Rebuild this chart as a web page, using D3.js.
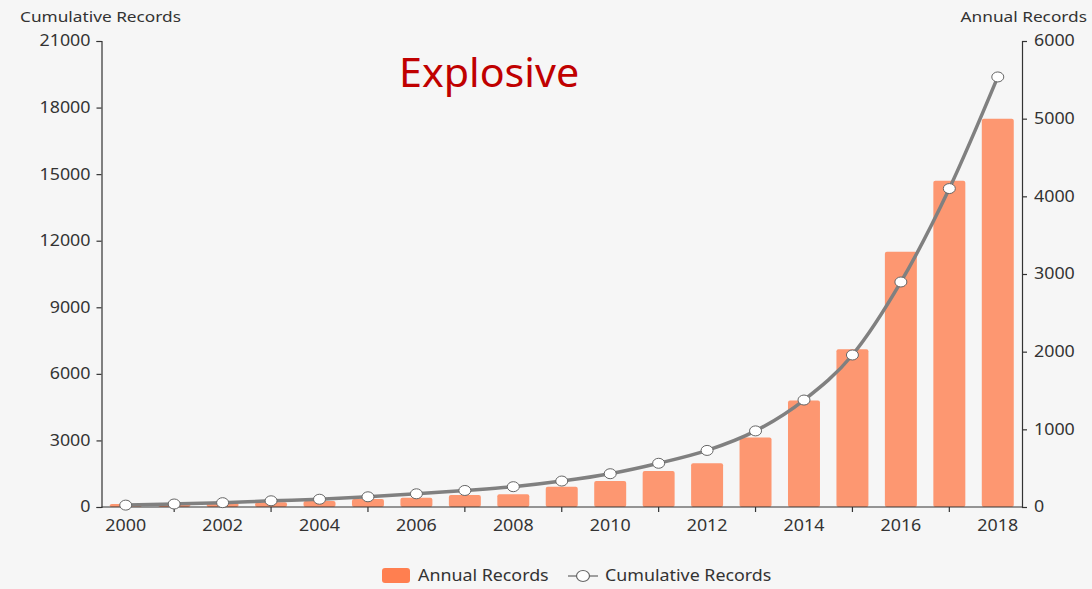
<!DOCTYPE html>
<html>
<head>
<meta charset="utf-8">
<script src="https://cdn.jsdelivr.net/npm/d3@7"></script>
<style>
  html, body { margin: 0; padding: 0; background: #f6f6f6; }
  svg { display: block; }
  text { font-family: "Noto Sans", "Open Sans", sans-serif; }
</style>
</head>
<body>
<svg id="chart" width="1092" height="589"></svg>
<script>
// Yearly record counts (bars, right axis) and running totals (line, left axis)
const years = ["2000","2001","2002","2003","2004","2005","2006","2007","2008","2009",
               "2010","2011","2012","2013","2014","2015","2016","2017","2018"];
const annualRecords = [40, 45, 50, 60, 77, 103, 120, 155, 165, 260,
                       335, 463, 562, 895, 1370, 2030, 3285, 4200, 5000];
const cumulativeRecords = [85, 135, 195, 280, 350, 460, 595, 745, 915, 1170,
                           1500, 1970, 2550, 3430, 4820, 6850, 10140, 14350, 19380];
const leftTicks = [0, 3000, 6000, 9000, 12000, 15000, 18000, 21000];
const rightTicks = [0, 1000, 2000, 3000, 4000, 5000, 6000];
const xLabelYears = years.filter((d, i) => i % 2 === 0);
const xTickYears = years.filter((d, i) => i % 2 === 1);

const svg = d3.select("#chart");
const plot = { left: 101.5, right: 1022, top: 41, bottom: 507 };
const axisColor = "#333";
const textColor = "#333";

const x = d3.scaleBand().domain(years).range([plot.left, plot.right]).paddingInner(0).paddingOuter(0);
const yLeft = d3.scaleLinear().domain([0, 21000]).range([plot.bottom, plot.top]);
const yRight = d3.scaleLinear().domain([0, 6000]).range([plot.bottom, plot.top]);

const barWidth = x.bandwidth() * 0.66;

// Bars: annual records
svg.append("g").selectAll("rect")
  .data(years)
  .join("rect")
  .attr("x", d => x(d) + (x.bandwidth() - barWidth) / 2)
  .attr("y", (d, i) => yRight(annualRecords[i]))
  .attr("width", barWidth)
  .attr("height", (d, i) => plot.bottom - yRight(annualRecords[i]))
  .attr("rx", 2)
  .attr("fill", "#ff7f50")
  .attr("fill-opacity", 0.8);

// Left axis (cumulative)
const leftAxis = d3.axisLeft(yLeft).tickValues(leftTicks).tickSize(5).tickPadding(6).tickFormat(d3.format("d"));
const gL = svg.append("g").attr("transform", `translate(${plot.left},0)`).call(leftAxis);

// Right axis (annual)
const rightAxis = d3.axisRight(yRight).tickValues(rightTicks).tickSize(5).tickPadding(7).tickFormat(d3.format("d"));
const gR = svg.append("g").attr("transform", `translate(${plot.right},0)`).call(rightAxis);

// Bottom axis: labels on even years, tick marks on odd years
const gB = svg.append("g").attr("transform", `translate(0,${plot.bottom})`);
gB.append("line").attr("x1", plot.left).attr("x2", plot.right).attr("y1", 0).attr("y2", 0)
  .attr("stroke", axisColor).attr("stroke-width", 1.2);
gB.selectAll("line.tick").data(xTickYears).join("line")
  .attr("class", "tick")
  .attr("x1", d => x(d) + x.bandwidth() / 2).attr("x2", d => x(d) + x.bandwidth() / 2)
  .attr("y1", 0).attr("y2", 5).attr("stroke", axisColor).attr("stroke-width", 1.2);
gB.selectAll("text").data(xLabelYears).join("text")
  .attr("class", "wide")
  .attr("x", d => x(d) + x.bandwidth() / 2)
  .attr("y", 24)
  .attr("text-anchor", "middle")
  .attr("fill", textColor)
  .attr("font-size", 15.5)
  .text(d => d);

[gL, gR].forEach(g => {
  g.select(".domain").attr("stroke", axisColor).attr("stroke-width", 1.2);
  g.selectAll(".tick line").attr("stroke", axisColor).attr("stroke-width", 1.2);
  g.selectAll(".tick text").attr("class", "wide").attr("fill", textColor).attr("font-size", 15.5)
    .attr("font-family", "'Noto Sans', 'Open Sans', sans-serif");
});

// Axis titles
svg.append("text").attr("class", "wide").attr("x", 20).attr("y", 22).attr("fill", textColor)
  .attr("font-size", 15).text("Cumulative Records");
svg.append("text").attr("class", "wide").attr("x", 1087).attr("y", 22).attr("text-anchor", "end").attr("fill", textColor)
  .attr("font-size", 15).text("Annual Records");

// Cumulative line
const line = d3.line()
  .x((d, i) => x(years[i]) + x.bandwidth() / 2)
  .y(d => yLeft(d))
  .curve(d3.curveMonotoneX);
svg.append("path").datum(cumulativeRecords)
  .attr("d", line)
  .attr("fill", "none")
  .attr("stroke", "#808080")
  .attr("stroke-width", 3.5);

svg.append("g").selectAll("ellipse")
  .data(cumulativeRecords)
  .join("ellipse")
  .attr("cx", (d, i) => x(years[i]) + x.bandwidth() / 2)
  .attr("cy", d => yLeft(d))
  .attr("rx", 6).attr("ry", 5)
  .attr("fill", "#fff")
  .attr("stroke", "#666")
  .attr("stroke-width", 1);

// Title
const title = svg.append("text").attr("x", 399).attr("y", 87).attr("fill", "#c00000")
  .attr("font-size", 40).text("Explosive");

// Legend
const legend = svg.append("g");
legend.append("rect").attr("x", 382).attr("y", 568).attr("width", 28).attr("height", 15).attr("rx", 3)
  .attr("fill", "#ff7f50");
legend.append("text").attr("class", "wide").attr("x", 418).attr("y", 581).attr("fill", textColor).attr("font-size", 15.5)
  .text("Annual Records");
legend.append("line").attr("x1", 568).attr("x2", 598).attr("y1", 576).attr("y2", 576)
  .attr("stroke", "#666").attr("stroke-width", 1.2);
legend.append("ellipse").attr("cx", 583).attr("cy", 576).attr("rx", 6.5).attr("ry", 5.5)
  .attr("fill", "#fff").attr("stroke", "#666").attr("stroke-width", 1.2);
legend.append("text").attr("class", "wide").attr("x", 605).attr("y", 581).attr("fill", textColor).attr("font-size", 15.5)
  .text("Cumulative Records");

// Slightly wider letterforms for the small labels
function widen(sel, factor) {
  sel.each(function () {
    const len = this.getComputedTextLength();
    d3.select(this).attr("textLength", len * factor).attr("lengthAdjust", "spacingAndGlyphs");
  });
}
widen(svg.selectAll("text.wide"), 1.15);
widen(title, 1.03);
</script>
</body>
</html>
